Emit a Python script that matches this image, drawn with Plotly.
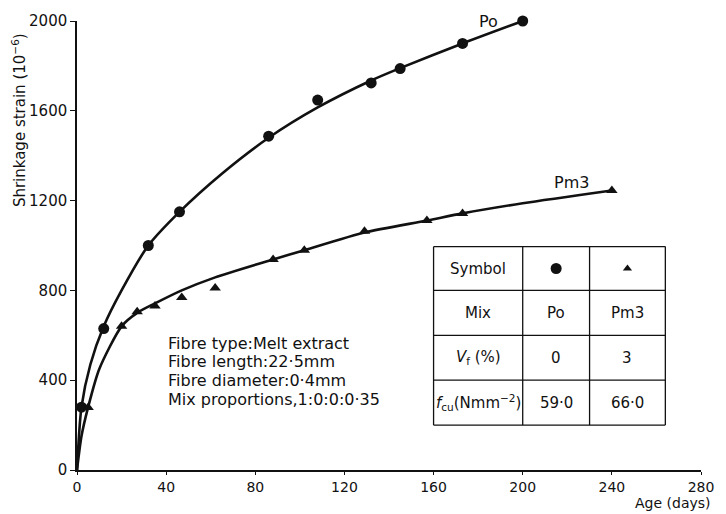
import plotly.graph_objects as go

# Measured shrinkage strain (x 10^-6) against age (days)
po_days = [2, 12, 32, 46, 86, 108, 132, 145, 173, 200]
po_strain = [280, 630, 1000, 1150, 1487, 1648, 1724, 1788, 1900, 2000]

pm3_days = [5, 20, 27, 35, 47, 62, 88, 102, 129, 157, 173, 240]
pm3_strain = [278, 640, 705, 731, 768, 811, 938, 979, 1063, 1111, 1143, 1245]

# Fitted trend curves
po_fit_days = [0, 2, 6, 12, 20, 32, 46, 65, 86, 108, 132, 145, 173, 200]
po_fit_strain = [0, 280, 470, 640, 800, 1000, 1150, 1320, 1480, 1615, 1735, 1790, 1900, 2000]

pm3_fit_days = [0, 2, 5, 10, 20, 27, 35, 47, 62, 88, 102, 129, 157, 173, 200, 240]
pm3_fit_strain = [0, 150, 280, 450, 640, 700, 742, 800, 858, 938, 979, 1058, 1111, 1143, 1188, 1245]

x_ticks = [0, 40, 80, 120, 160, 200, 240, 280]
y_ticks = [0, 400, 800, 1200, 1600, 2000]

notes = [
    "Fibre type:Melt extract",
    "Fibre length:22·5mm",
    "Fibre diameter:0·4mm",
    "Mix proportions,1:0:0:0·35",
]

# Properties table
table_rows = [
    ["Symbol", "", ""],
    ["Mix", "Po", "Pm3"],
    ["<i>V</i><sub>f</sub> (%)", "0", "3"],
    ["<i>f</i><sub>cu</sub>(Nmm<sup>−2</sup>)", "59·0", "66·0"],
]

FONT = "DejaVu Sans"
BLACK = "#111111"

fig = go.Figure()

fig.add_trace(go.Scatter(x=po_fit_days, y=po_fit_strain, mode="lines",
                         line=dict(color=BLACK, width=2.6, shape="spline", smoothing=0.7),
                         hoverinfo="skip", showlegend=False, cliponaxis=False))
fig.add_trace(go.Scatter(x=pm3_fit_days, y=pm3_fit_strain, mode="lines",
                         line=dict(color=BLACK, width=2.6, shape="spline", smoothing=0.7),
                         hoverinfo="skip", showlegend=False, cliponaxis=False))
fig.add_trace(go.Scatter(x=po_days, y=po_strain, mode="markers",
                         marker=dict(symbol="circle", size=11, color=BLACK),
                         name="Po", showlegend=False, cliponaxis=False))
fig.add_trace(go.Scatter(x=pm3_days, y=pm3_strain, mode="markers",
                         marker=dict(symbol="triangle-up", size=10, color=BLACK),
                         name="Pm3", showlegend=False, cliponaxis=False))

# Table grid, laid out in data units
col_edges = [160, 200, 230, 264]
row_edges = [995, 800, 600, 400, 200]
col_centres = [(col_edges[i] + col_edges[i + 1]) / 2 for i in range(3)]
row_centres = [(row_edges[i] + row_edges[i + 1]) / 2 for i in range(4)]

for xe in col_edges:
    fig.add_shape(type="line", x0=xe, x1=xe, y0=row_edges[-1], y1=row_edges[0],
                  line=dict(color=BLACK, width=1.3))
for ye in row_edges:
    fig.add_shape(type="line", x0=col_edges[0], x1=col_edges[-1], y0=ye, y1=ye,
                  line=dict(color=BLACK, width=1.3))

for r, row in enumerate(table_rows):
    for c, txt in enumerate(row):
        if txt:
            fig.add_annotation(x=col_centres[c], y=row_centres[r], text=txt,
                               showarrow=False, xanchor="center", yanchor="middle",
                               font=dict(family=FONT, size=15, color=BLACK))

# Symbol key inside the table
fig.add_trace(go.Scatter(x=[col_centres[1]], y=[row_centres[0]], mode="markers",
                         marker=dict(symbol="circle", size=11, color=BLACK),
                         hoverinfo="skip", showlegend=False))
fig.add_trace(go.Scatter(x=[col_centres[2]], y=[row_centres[0]], mode="markers",
                         marker=dict(symbol="triangle-up", size=8, color=BLACK),
                         hoverinfo="skip", showlegend=False))

# Curve labels
fig.add_annotation(xref="paper", yref="paper", x=0.66, y=1.0, text="Po",
                   showarrow=False, xanchor="center", yanchor="middle",
                   font=dict(family=FONT, size=16, color=BLACK))
fig.add_annotation(x=222, y=1282, text="Pm3", showarrow=False,
                   font=dict(family=FONT, size=16, color=BLACK))

# Notes block
for i, line in enumerate(notes):
    fig.add_annotation(x=40, y=565 - i * 83, text=line, showarrow=False,
                       xanchor="left", yanchor="middle",
                       font=dict(family=FONT, size=16, color=BLACK))

# Axis titles
fig.add_annotation(xref="paper", yref="paper", x=-0.094, y=0.78,
                   text="Shrinkage strain (10<sup>−6</sup>)", textangle=-90,
                   showarrow=False, xanchor="center", yanchor="middle",
                   font=dict(family=FONT, size=15, color=BLACK))
fig.add_annotation(xref="paper", yref="paper", x=1.02, y=-0.096,
                   text="Age (days)", showarrow=False, xanchor="right", yanchor="bottom",
                   font=dict(family=FONT, size=14, color=BLACK))

fig.update_xaxes(range=[0, 280], tickvals=x_ticks, ticktext=[str(v) for v in x_ticks],
                 showgrid=False, zeroline=False, showline=True, linecolor=BLACK,
                 linewidth=1.5, ticks="outside", ticklen=3, tickcolor=BLACK,
                 tickfont=dict(family=FONT, size=14, color=BLACK))
fig.update_yaxes(range=[0, 2000], tickvals=y_ticks, ticktext=[str(v) for v in y_ticks],
                 showgrid=False, zeroline=False, showline=True, linecolor=BLACK,
                 linewidth=1.5, ticks="outside", ticklen=5, tickcolor=BLACK,
                 tickfont=dict(family=FONT, size=15, color=BLACK))

fig.update_layout(width=726, height=514,
                  margin=dict(l=77, r=16, t=14, b=44),
                  paper_bgcolor="white", plot_bgcolor="white",
                  showlegend=False)

fig.write_html("out.html")
